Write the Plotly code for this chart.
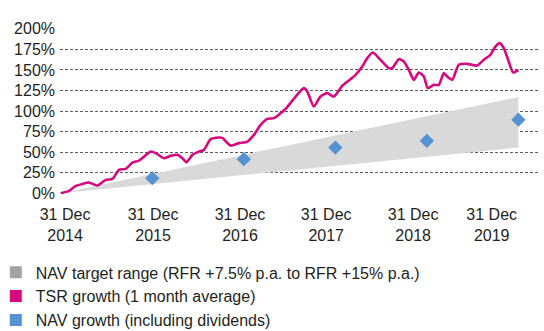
import plotly.graph_objects as go

# Months elapsed since 31 Dec 2014 and TSR growth (%), 1 month average
tsr_month = [0, 1.09, 1.97, 2.84, 3.71, 4.81, 5.9, 6.77, 7.64, 8.52, 9.39, 10.26,
             11.79, 12.45, 13.53, 14.41, 15.29, 15.94, 16.47, 17.25, 18.12, 18.77,
             19.65, 20.74, 21.18, 22.27, 23.36, 24.46, 25.32, 26.2, 27.08, 27.94,
             28.82, 29.48, 30.79, 31.87, 32.32, 33.18, 34.06, 34.94, 35.81, 36.91,
             37.77, 38.65, 39.53, 40.18, 40.92, 41.92, 43.01, 43.46, 44.32, 44.98,
             45.63, 46.29, 46.94, 47.6, 48.12, 48.91, 49.56, 50.22, 50.66, 51.32,
             52.18, 53.28, 54.59, 55.46, 56.33, 56.99, 57.55, 58.08, 58.73, 59.31, 60.0]
tsr_growth = [0, 2.8, 8.9, 11.3, 12.9, 9.3, 16.2, 17.4, 28.4, 29.6, 37.2, 39.7,
              50.6, 48.7, 42.6, 45.4, 46.6, 42.6, 37.7, 46.6, 50.6, 52.7,
              65.7, 67.7, 67.3, 57.9, 60.9, 62.8, 71.0, 83.1, 90.4, 91.3,
              97.4, 102.6, 117.6, 127.8, 123.7, 105.4, 117.6, 121.7, 117.6, 130.7,
              137.1, 144.0, 154.1, 164.3, 171.1, 162.2, 152.2, 152.2, 163.1, 160.2,
              150.1, 137.9, 146.8, 141.9, 127.8, 131.8, 131.8, 146.1, 141.9, 137.9,
              156.2, 157.4, 155.3, 162.3, 168.4, 178.5, 182.6, 176.5, 160.2, 146.8, 150.1]

# Year-end points: NAV growth and the target range bounds (%)
year_month = [0, 12, 24, 36, 48, 60]
nav_month = [12, 24, 36, 48, 60]
nav_growth = [18.3, 41.4, 55.5, 63.7, 89.5]
range_upper = [0, 23.4, 46.8, 70.2, 93.6, 117]
range_lower = [0, 11.1, 22.2, 33.3, 44.4, 55.5]

tick_pos = [0.56, 12.1, 23.5, 34.8, 46.2, 56.5]
tick_text = ["31 Dec<br>2014", "31 Dec<br>2015", "31 Dec<br>2016",
             "31 Dec<br>2017", "31 Dec<br>2018", "31 Dec<br>2019"]
y_ticks = [0, 25, 50, 75, 100, 125, 150, 175, 200]
y_text = [f"{v}%" for v in y_ticks]

legend_names = ["NAV target range (RFR +7.5% p.a. to RFR +15% p.a.)",
                "TSR growth (1 month average)",
                "NAV growth (including dividends)"]

GREY_BAND = "#d9d9d9"
GREY_KEY = "#a3a3a3"
MAGENTA = "#d6087f"
BLUE = "#5592d2"
FONT = "Liberation Sans, Arial, sans-serif"

fig = go.Figure()

# Target range band
fig.add_trace(go.Scatter(x=year_month, y=range_lower, mode="lines",
                         line=dict(width=0, color=GREY_BAND), hoverinfo="skip",
                         showlegend=False))
fig.add_trace(go.Scatter(x=year_month, y=range_upper, mode="lines", fill="tonexty",
                         fillcolor=GREY_BAND, line=dict(width=0, color=GREY_BAND),
                         hoverinfo="skip", showlegend=False))

# TSR line
fig.add_trace(go.Scatter(x=tsr_month, y=tsr_growth, mode="lines",
                         line=dict(color=MAGENTA, width=2.6, shape="spline", smoothing=0.6),
                         showlegend=False))

# NAV diamonds
fig.add_trace(go.Scatter(x=nav_month, y=nav_growth, mode="markers",
                         marker=dict(symbol="diamond", size=11, color=BLUE,
                                     line=dict(width=0)),
                         showlegend=False))

# Square legend keys
for name, col in zip(legend_names, [GREY_KEY, MAGENTA, BLUE]):
    fig.add_trace(go.Scatter(x=[None], y=[None], mode="markers", name=name,
                             legendgroup=name,
                             marker=dict(symbol="square", size=12, color=col)))

fig.update_layout(
    width=544, height=331,
    margin=dict(l=60, r=5, t=28, b=137, autoexpand=False),
    paper_bgcolor="white", plot_bgcolor="white",
    font=dict(family=FONT, size=16, color="#231f20"),
    showlegend=True,
    legend=dict(x=-0.134, y=-0.37, xanchor="left", yanchor="top",
                bgcolor="rgba(0,0,0,0)", tracegroupgap=0,
                font=dict(size=16), itemwidth=30),
    xaxis=dict(range=[-0.1, 62.7], tickvals=tick_pos, ticktext=tick_text,
               showgrid=False, zeroline=False, showline=False, ticks="",
               ticklabelstandoff=9, tickfont=dict(size=16)),
    yaxis=dict(range=[-1, 201], tickvals=y_ticks, ticktext=y_text,
               showgrid=True, gridcolor="#5a5a5a", gridwidth=1,
               griddash="3px,2px", zeroline=False, showline=False, ticks="",
               ticklabelstandoff=4, tickfont=dict(size=16)),
)

fig.write_html("out.html")
